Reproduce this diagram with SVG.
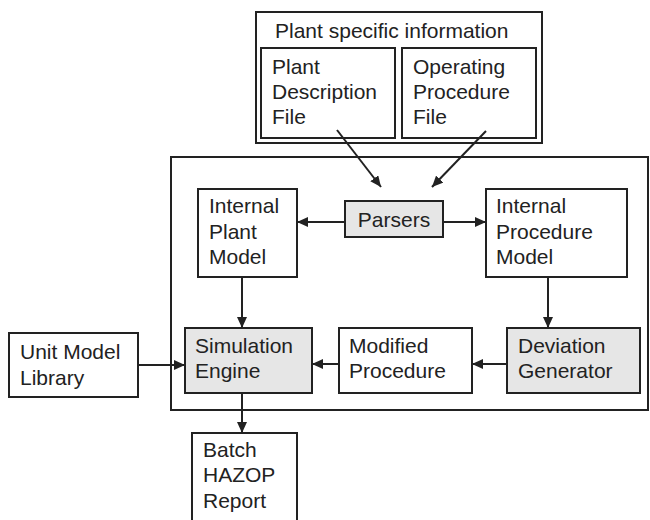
<svg xmlns="http://www.w3.org/2000/svg" width="650" height="520" viewBox="0 0 650 520">
<defs>
<style>
.box{fill:#fff;stroke:#222;stroke-width:2}
.gray{fill:#e6e6e6;stroke:#222;stroke-width:2}
.t{font-family:"Liberation Sans",Arial,sans-serif;font-size:21px;fill:#222}
.c{stroke:#222;stroke-width:2;fill:none;marker-end:url(#ah)}
</style>
<marker id="ah" markerUnits="userSpaceOnUse" markerWidth="11" markerHeight="10" refX="11" refY="5" orient="auto">
<path d="M0,0 L11,5 L0,10 z" fill="#222"/>
</marker>
</defs>
<rect width="650" height="520" fill="#fff"/>
<g id="plant-specific-information">
<rect class="box" x="256" y="12" width="286" height="131"/>
<text class="t" x="275" y="38">Plant specific information</text>
</g>
<g id="plant-description-file">
<rect class="box" x="261" y="48" width="134" height="90"/>
<text class="t" x="272" y="74">Plant</text>
<text class="t" x="272" y="99">Description</text>
<text class="t" x="272" y="124">File</text>
</g>
<g id="operating-procedure-file">
<rect class="box" x="402" y="48" width="134" height="90"/>
<text class="t" x="413" y="74">Operating</text>
<text class="t" x="413" y="99">Procedure</text>
<text class="t" x="413" y="124">File</text>
</g>
<g id="system">
<rect class="box" x="171" y="157" width="477" height="253" fill="none"/>
</g>
<g id="internal-plant-model">
<rect class="box" x="198" y="189" width="99" height="88"/>
<text class="t" x="209" y="213">Internal</text>
<text class="t" x="209" y="239">Plant</text>
<text class="t" x="209" y="264">Model</text>
</g>
<g id="parsers">
<rect class="gray" x="345" y="201" width="98" height="36"/>
<text class="t" x="394" y="227" text-anchor="middle">Parsers</text>
</g>
<g id="internal-procedure-model">
<rect class="box" x="486" y="189" width="141" height="88"/>
<text class="t" x="496" y="213">Internal</text>
<text class="t" x="496" y="239">Procedure</text>
<text class="t" x="496" y="264">Model</text>
</g>
<g id="unit-model-library">
<rect class="box" x="9" y="333" width="129" height="64"/>
<text class="t" x="20" y="359">Unit Model</text>
<text class="t" x="20" y="385">Library</text>
</g>
<g id="simulation-engine">
<rect class="gray" x="185" y="328" width="127" height="65"/>
<text class="t" x="195" y="353">Simulation</text>
<text class="t" x="195" y="378">Engine</text>
</g>
<g id="modified-procedure">
<rect class="box" x="339" y="328" width="133" height="65"/>
<text class="t" x="349" y="353">Modified</text>
<text class="t" x="349" y="378">Procedure</text>
</g>
<g id="deviation-generator">
<rect class="gray" x="507" y="328" width="133" height="65"/>
<text class="t" x="518" y="353">Deviation</text>
<text class="t" x="518" y="378">Generator</text>
</g>
<g id="batch-hazop-report">
<rect class="box" x="192" y="433" width="105" height="100"/>
<text class="t" x="203" y="457">Batch</text>
<text class="t" x="203" y="482">HAZOP</text>
<text class="t" x="203" y="508">Report</text>
</g>
<g id="connectors">
<line class="c" x1="337" y1="130" x2="381" y2="187"/>
<line class="c" x1="486" y1="131" x2="432" y2="187"/>
<line class="c" x1="345" y1="222" x2="297" y2="222"/>
<line class="c" x1="443" y1="222" x2="486" y2="222"/>
<line class="c" x1="242" y1="277" x2="242" y2="328"/>
<line class="c" x1="548" y1="277" x2="548" y2="328"/>
<line class="c" x1="507" y1="364" x2="472" y2="364"/>
<line class="c" x1="339" y1="364" x2="312" y2="364"/>
<line class="c" x1="138" y1="365" x2="185" y2="365"/>
<line class="c" x1="242" y1="393" x2="242" y2="433"/>
</g>
</svg>
